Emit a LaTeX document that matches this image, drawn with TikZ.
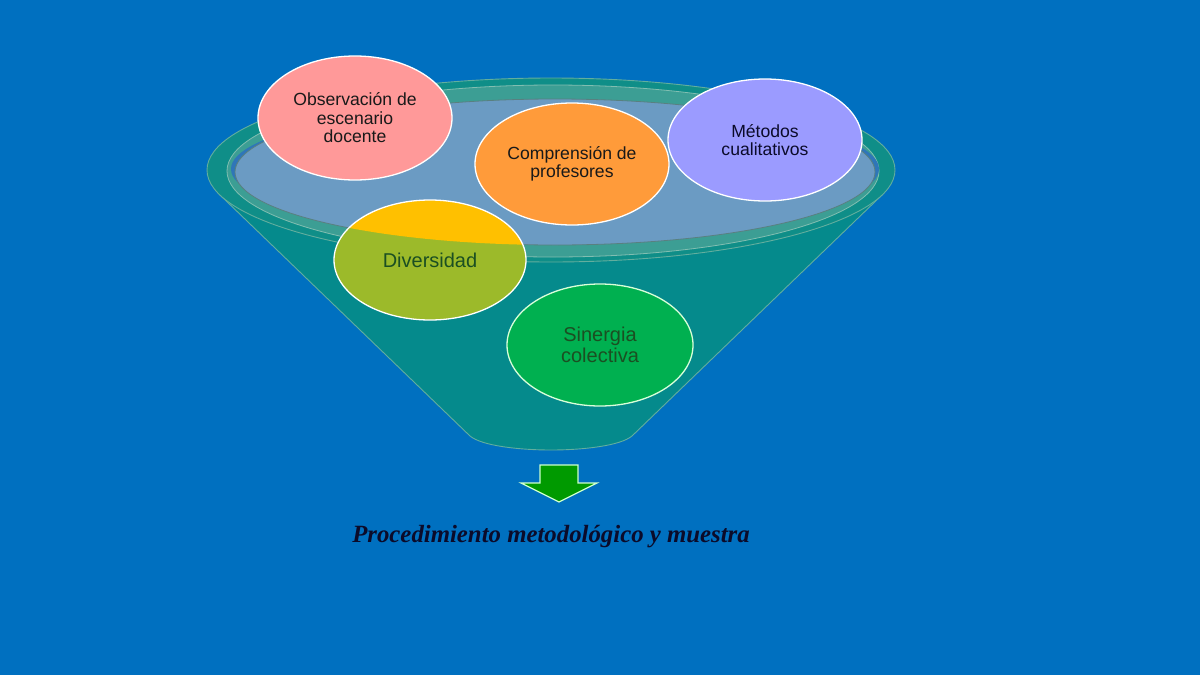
\documentclass[tikz,border=0pt]{standalone}
\usepackage{fontspec}
\setmainfont{Liberation Sans}
\newfontfamily\tnr{Liberation Serif}
\usetikzlibrary{shapes.geometric}
\definecolor{bgblue}{HTML}{0070C0}
\definecolor{conecol}{HTML}{058A8C}
\definecolor{rimcol}{HTML}{0F8E88}
\definecolor{opencol}{HTML}{3C9E94}
\definecolor{liquid}{HTML}{6B9BC3}
\definecolor{sliver}{HTML}{2F76B8}
\definecolor{edgecol}{HTML}{62AE9E}
\definecolor{pinkc}{HTML}{FF9999}
\definecolor{orangec}{HTML}{FF9B3A}
\definecolor{lavc}{HTML}{9B9BFF}
\definecolor{yellc}{HTML}{FFC000}
\definecolor{olivec}{HTML}{9CBA2A}
\definecolor{greenc}{HTML}{00B050}
\definecolor{arrowg}{HTML}{009A00}
\definecolor{darkg}{HTML}{1B4F22}
\definecolor{navytext}{HTML}{0B0B2A}
\tikzset{
  bubble/.style={ellipse, draw=white, line width=1.3pt, align=center, inner sep=0pt,
    font=\fontsize{17.6}{18.6}\selectfont, text=black!90},
  bigbubble/.style={bubble, font=\fontsize{20}{21.5}\selectfont, text=darkg},
  rimline/.style={draw=edgecol, line width=0.9pt}
}
\begin{document}
\begin{tikzpicture}[x=1pt,y=-1pt]
\useasboundingbox (0,0) rectangle (1200,675);
\fill[bgblue] (0,0) rectangle (1200,675);
% funnel cone
\coordinate (cl) at (220,195);
\coordinate (cr) at (882,195);
\filldraw[fill=conecol, rimline] (cl) -- (470,436) .. controls (482,446) and (520,450) .. (551,450)
  .. controls (582,450) and (620,446) .. (632,436) -- (cr) -- cycle;
% rim
\filldraw[fill=rimcol, rimline] (551,170) ellipse [x radius=344, y radius=92];
\filldraw[fill=opencol, draw=edgecol!80!white, line width=0.8pt] (553,171) ellipse [x radius=326, y radius=86];
\fill[sliver] (555,169) ellipse [x radius=324, y radius=66];
\filldraw[fill=liquid, draw=gray!70!teal, line width=0.8pt] (555,172) ellipse [x radius=320, y radius=73];
% bubbles
\node[bubble, fill=pinkc, minimum width=194pt, minimum height=124pt] (obs) at (355,118)
  {Observación de\\escenario\\docente};
\node[bubble, fill=orangec, minimum width=194pt, minimum height=122pt] (comp) at (572,164)
  {Comprensión de\\profesores};
\node[bubble, fill=lavc, minimum width=194pt, minimum height=122pt, text=navytext] (met) at (765,140)
  {Métodos\\cualitativos};
% Diversidad, partly under the funnel front
\fill[olivec] (430,260) ellipse [x radius=96, y radius=60];
\begin{scope}
  \clip (430,260) ellipse [x radius=96, y radius=60];
  \fill[yellc] (555,172) ellipse [x radius=320, y radius=73];
\end{scope}
\node[bigbubble, minimum width=192pt, minimum height=120pt] (div) at (430,260) {Diversidad};
\node[bigbubble, fill=greenc, draw=white!85!green, minimum width=186pt, minimum height=122pt] (sin) at (600,345)
  {Sinergia\\colectiva};
% arrow
\filldraw[fill=arrowg, draw=white!80!green, line width=1.2pt]
  (540,465) -- (578,465) -- (578,483) -- (597,483) -- (559,502) -- (521,483) -- (540,483) -- cycle;
\node[font=\tnr\bfseries\itshape\fontsize{24.8}{26}\selectfont, text=navytext] (proc) at (551,537)
  {Procedimiento metodológico y muestra};
\end{tikzpicture}
\end{document}
